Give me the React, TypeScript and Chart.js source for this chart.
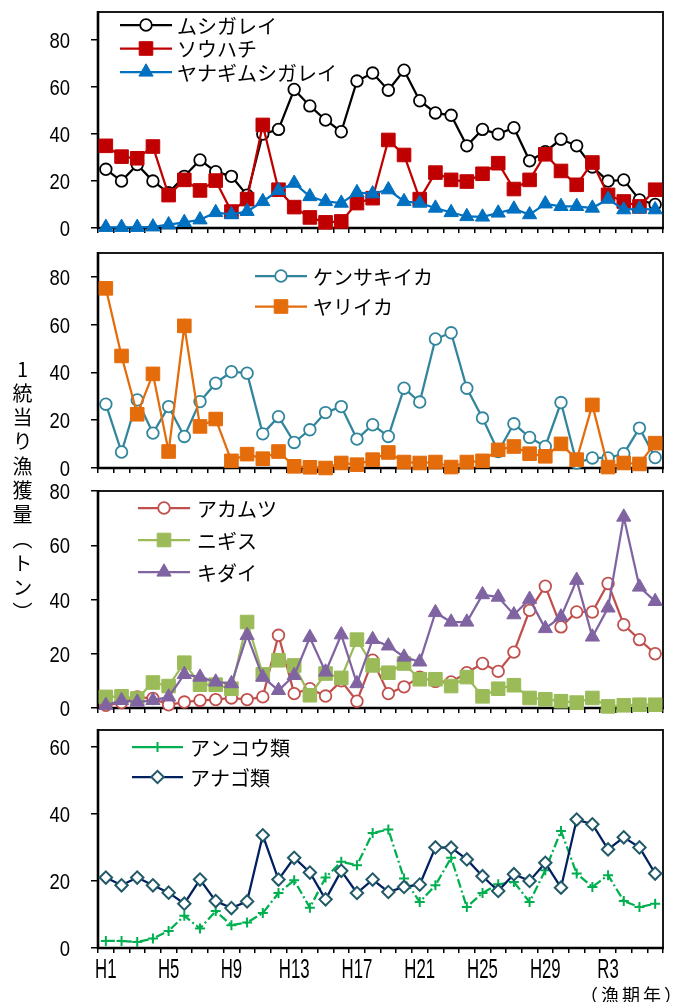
import React, { useEffect, useRef } from "react";
import { Chart, registerables } from "chart.js";

Chart.register(...registerables);

// ---- data ----
const years = [
  "H1", "H2", "H3", "H4", "H5", "H6", "H7", "H8", "H9", "H10",
  "H11", "H12", "H13", "H14", "H15", "H16", "H17", "H18", "H19", "H20",
  "H21", "H22", "H23", "H24", "H25", "H26", "H27", "H28", "H29", "H30",
  "R1", "R2", "R3", "R4", "R5", "R6",
];
const tickEvery = 4;
const yTickValues = [0, 20, 40, 60, 80];

const mushigarei = [25, 20, 27, 20, 15, 22, 29, 24, 22, 14, 40, 42, 59, 52, 46, 41, 62.6, 66, 58.7, 67.2, 54.2, 49, 48, 35, 42, 40, 42.7, 28.6, 32.5, 37.8, 35, 26, 20, 20.5, 12, 10];
const souhachi = [35, 30.4, 29.7, 34.7, 14, 20.5, 16, 20.2, 7, 12.3, 43.9, 16.3, 8.9, 4.5, 2.4, 2.8, 10.6, 12.7, 37.5, 31.1, 12.3, 23.6, 20.5, 19.8, 23.1, 27.6, 16.6, 20.5, 31.4, 24.3, 18.4, 27.9, 14.1, 11.3, 9.2, 16.3];
const yanagimushigarei = [0.3, 0.3, 0.3, 0.5, 1.4, 2.4, 3.5, 6.6, 5.7, 7.1, 11.3, 16, 19.1, 13.4, 11.3, 10.6, 15.1, 14.6, 16.3, 11.3, 10.6, 8.5, 6.6, 4.9, 4.7, 6.4, 8.1, 5.7, 10.3, 9.2, 9.2, 8.5, 12.3, 7.8, 8.1, 7.8];

const kensakiika = [26.7, 6.7, 28.5, 14.6, 25.7, 13.2, 27.8, 35.5, 40.3, 39.7, 14.3, 21.5, 10.7, 16, 23.2, 25.7, 12.1, 18.1, 13.2, 33.4, 27.6, 54, 56.6, 33.4, 20.9, 6.9, 18.5, 12.8, 9, 27.4, 2.1, 4.2, 4.2, 6, 16.7, 4.4];
const yariika = [75.2, 46.9, 22.5, 39.4, 6.9, 59.5, 17.4, 20.5, 3, 5.8, 3.9, 6.9, 0.7, 0.3, 0, 2.1, 1.4, 3.5, 6.5, 2.5, 2.1, 2.5, 0.4, 2.5, 3, 7.6, 9, 6, 4.9, 10.1, 3.5, 26.4, 0.4, 2.1, 1.7, 10.4];

const akamutsu = [1, 2, 4.1, 3.5, 1.2, 2.2, 2.8, 3.1, 3.7, 3.1, 4.1, 26.8, 5.3, 7.1, 4.4, 10, 2.5, 17.6, 5.3, 7.8, 11.4, 9.8, 9.6, 13, 16.4, 13.5, 20.6, 36, 44.9, 29.9, 35.4, 35.4, 45.9, 30.7, 25.2, 20];
const nigisu = [4.1, 4.3, 3.5, 9.4, 8.1, 16.7, 8.6, 8.6, 7.1, 31.7, 12.4, 17.6, 15.7, 4.7, 12.7, 11.1, 25.2, 15.7, 13, 16.4, 10.6, 10.6, 8.1, 11.4, 4.3, 7.1, 8.4, 3.7, 3.2, 2.5, 2, 3.7, 0.6, 1, 1.2, 1.2];
const kidai = [1, 2.8, 2.2, 2.8, 4.1, 12.4, 11.4, 9.6, 9, 26.8, 11.4, 6.5, 12, 26, 13.3, 27, 9, 25.3, 22.9, 18.8, 17, 35.2, 31.7, 31.7, 41.8, 40.9, 34.4, 40.1, 29.3, 33.6, 47.1, 26.2, 36.9, 70.4, 44.6, 39.3];

const ankourui = [2.1, 2.1, 1.8, 2.8, 5.1, 9.6, 5.8, 11, 6.8, 7.6, 10.4, 16.4, 20.2, 12, 21, 25.7, 24.7, 34.3, 35.3, 20.7, 13.7, 18.7, 26.9, 12.2, 16.4, 19, 19.7, 13.7, 23.2, 34.9, 22.2, 18.2, 21.7, 14, 12.2, 13.2];
const anagorui = [21, 18.7, 21, 18.7, 16.5, 13.2, 20.4, 14, 11.9, 13.9, 33.6, 20.4, 26.9, 22.5, 14.5, 23, 16.4, 20.4, 16.7, 18.2, 18.9, 30, 29.9, 26.4, 21.4, 17, 22, 20, 25.4, 18, 38.3, 36.9, 29.4, 33, 30, 22.2];

const yTitle = "1統当り漁獲量（トン）";
const xTitle = "（漁期年）";

// ---- styles ----
type Series = {
  label: string;
  data: number[];
  line: string;
  marker: string;
  fill: string;
  style: string;
  r: number;
  bw: number;
  dash?: number[];
};

const LW = 2.25;
const NUM_FONT = '"Liberation Sans", Arial, sans-serif';
const JP_FONT = '"Noto Sans CJK JP", "Noto Sans CJK SC", sans-serif';

type PanelCfg = {
  top: number;
  bottom: number;
  max: number;
  xh: number;
  showLabels: boolean;
  legend: { x0: number; x1: number; tx: number; y: number; gap: number };
  series: Series[];
};

const PANELS: PanelCfg[] = [
  {
    top: 12, bottom: 228, max: 92, xh: 16, showLabels: false,
    legend: { x0: 120, x1: 172, tx: 177, y: 25, gap: 23.5 },
    series: [
      { label: "ムシガレイ", data: mushigarei, line: "#000000", marker: "#000000", fill: "#ffffff", style: "circle", r: 5.8, bw: 1.8 },
      { label: "ソウハチ", data: souhachi, line: "#C00000", marker: "#C00000", fill: "#C00000", style: "rect", r: 9.6, bw: 1 },
      { label: "ヤナギムシガレイ", data: yanagimushigarei, line: "#0070C0", marker: "#0070C0", fill: "#0070C0", style: "triangle", r: 8.2, bw: 1 },
    ],
  },
  {
    top: 253, bottom: 468, max: 90, xh: 16, showLabels: false,
    legend: { x0: 255, x1: 307, tx: 313, y: 276, gap: 30.5 },
    series: [
      { label: "ケンサキイカ", data: kensakiika, line: "#31859C", marker: "#31859C", fill: "#ffffff", style: "circle", r: 5.8, bw: 1.8 },
      { label: "ヤリイカ", data: yariika, line: "#E46C0A", marker: "#E46C0A", fill: "#E46C0A", style: "rect", r: 9.6, bw: 1 },
    ],
  },
  {
    top: 491, bottom: 708, max: 80, xh: 16, showLabels: false,
    legend: { x0: 138, x1: 190, tx: 197, y: 508, gap: 32 },
    series: [
      { label: "アカムツ", data: akamutsu, line: "#C0504D", marker: "#C0504D", fill: "#ffffff", style: "circle", r: 5.8, bw: 1.8 },
      { label: "ニギス", data: nigisu, line: "#9BBB59", marker: "#9BBB59", fill: "#9BBB59", style: "rect", r: 9.6, bw: 1 },
      { label: "キダイ", data: kidai, line: "#8064A2", marker: "#8064A2", fill: "#8064A2", style: "triangle", r: 8.2, bw: 1 },
    ],
  },
  {
    top: 730, bottom: 948, max: 65, xh: 40, showLabels: true,
    legend: { x0: 132, x1: 183, tx: 190, y: 747, gap: 30 },
    series: [
      { label: "アンコウ類", data: ankourui, line: "#00B050", marker: "#00B050", fill: "#00B050", style: "cross", r: 5, bw: 2, dash: [9, 3, 2, 3] },
      { label: "アナゴ類", data: anagorui, line: "#002060", marker: "#215968", fill: "#ffffff", style: "rectRot", r: 6.2, bw: 2 },
    ],
  },
];

const PAD_TOP = 14;
const AXIS_LEFT = 98;
const PAD_RIGHT = 17;
const Y_LABEL_RIGHT = 70;

function drawMarker(ctx: CanvasRenderingContext2D, s: Series, x: number, y: number) {
  const r = s.r;
  ctx.save();
  ctx.beginPath();
  ctx.setLineDash([]);
  switch (s.style) {
    case "circle":
      ctx.arc(x, y, r, 0, Math.PI * 2);
      break;
    case "rect": {
      const h = r * Math.SQRT1_2;
      ctx.rect(x - h, y - h, 2 * h, 2 * h);
      break;
    }
    case "triangle":
      ctx.moveTo(x, y - r);
      ctx.lineTo(x + r * Math.sin((2 * Math.PI) / 3), y - r * Math.cos((2 * Math.PI) / 3));
      ctx.lineTo(x + r * Math.sin((4 * Math.PI) / 3), y - r * Math.cos((4 * Math.PI) / 3));
      ctx.closePath();
      break;
    case "rectRot":
      ctx.moveTo(x - r, y);
      ctx.lineTo(x, y - r);
      ctx.lineTo(x + r, y);
      ctx.lineTo(x, y + r);
      ctx.closePath();
      break;
    case "cross":
      ctx.moveTo(x, y - r);
      ctx.lineTo(x, y + r);
      ctx.moveTo(x - r, y);
      ctx.lineTo(x + r, y);
      break;
  }
  if (s.style !== "cross") {
    ctx.fillStyle = s.fill;
    ctx.fill();
  }
  ctx.lineWidth = s.bw;
  ctx.strokeStyle = s.marker;
  ctx.stroke();
  ctx.restore();
}

function Panel({ cfg }: { cfg: PanelCfg }) {
  const ref = useRef<HTMLCanvasElement>(null);
  const canvasTop = cfg.top - PAD_TOP;
  const height = cfg.bottom - cfg.top + PAD_TOP + cfg.xh;

  useEffect(() => {
    if (!ref.current) return;
    const n = cfg.series.length;
    const framePlugin = {
      id: "frame",
      beforeDatasetsDraw(chart: any) {
        const { ctx, chartArea: a } = chart;
        ctx.save();
        ctx.strokeStyle = "#1a1a1a";
        ctx.lineWidth = 2;
        ctx.beginPath();
        ctx.moveTo(a.left, a.top);
        ctx.lineTo(a.right, a.top);
        ctx.lineTo(a.right, a.bottom);
        ctx.stroke();
        ctx.strokeStyle = "#000";
        ctx.lineWidth = 2.6;
        ctx.beginPath();
        ctx.moveTo(a.left, a.top - 1);
        ctx.lineTo(a.left, a.bottom);
        ctx.lineTo(a.right + 1, a.bottom);
        ctx.stroke();
        ctx.restore();
      },
    };
    const labelPlugin = {
      id: "tickLabels",
      afterDraw(chart: any) {
        const { ctx, chartArea: a } = chart;
        const ys = chart.scales.y;
        const xs = chart.scales.x;
        ctx.save();
        ctx.fillStyle = "#000";
        ctx.font = `22px ${NUM_FONT}`;
        ctx.textAlign = "right";
        ctx.textBaseline = "alphabetic";
        ys.ticks.forEach((t: any) => {
          const y = ys.getPixelForValue(t.value);
          ctx.save();
          ctx.translate(Y_LABEL_RIGHT, y + 8);
          ctx.scale(0.84, 1);
          ctx.fillText(String(t.value), 0, 0);
          ctx.restore();
        });
        if (cfg.showLabels) {
          ctx.font = `28px ${NUM_FONT}`;
          ctx.textAlign = "center";
          years.forEach((lab, i) => {
            if (i % tickEvery !== 0) return;
            const x = xs.getPixelForValue(i);
            ctx.save();
            ctx.translate(x, a.bottom + 30);
            ctx.scale(0.6, 1);
            ctx.fillText(lab, 0, 0);
            ctx.restore();
          });
        }
        ctx.restore();
      },
    };
    const legendPlugin = {
      id: "customLegend",
      afterDatasetsDraw(chart: any) {
        const { ctx } = chart;
        const L = cfg.legend;
        cfg.series.forEach((s, i) => {
          const y = L.y + i * L.gap - canvasTop;
          ctx.save();
          ctx.strokeStyle = s.line;
          ctx.lineWidth = LW;
          ctx.setLineDash([]);
          ctx.beginPath();
          ctx.moveTo(L.x0, y);
          ctx.lineTo(L.x1, y);
          ctx.stroke();
          ctx.restore();
          drawMarker(ctx, s, (L.x0 + L.x1) / 2, y);
          ctx.save();
          ctx.fillStyle = "#000";
          ctx.font = `20px ${JP_FONT}`;
          ctx.textAlign = "left";
          ctx.textBaseline = "middle";
          ctx.fillText(s.label, L.tx, y + 1);
          ctx.restore();
        });
      },
    };

    const chart = new Chart(ref.current, {
      type: "line",
      data: {
        labels: years,
        datasets: cfg.series.map((s, i) => ({
          label: s.label,
          data: s.data,
          borderColor: s.line,
          backgroundColor: s.fill,
          borderWidth: LW,
          borderDash: s.dash || [],
          tension: 0,
          pointStyle: s.style as any,
          pointRadius: s.r,
          pointHoverRadius: s.r,
          pointBorderWidth: s.bw,
          pointBackgroundColor: s.fill,
          pointBorderColor: s.marker,
          clip: false as any,
          order: n - i,
        })),
      },
      options: {
        animation: false,
        responsive: false,
        devicePixelRatio: 1,
        events: [],
        layout: { padding: { top: PAD_TOP, right: PAD_RIGHT, left: 0, bottom: 0 } },
        plugins: { legend: { display: false }, tooltip: { enabled: false } },
        scales: {
          x: {
            type: "category",
            offset: true,
            border: { display: false },
            grid: { offset: true, drawOnChartArea: false, drawTicks: true, tickLength: 5, color: "#000", lineWidth: 1.5 },
            ticks: { display: false, autoSkip: false },
            afterFit: (scale: any) => {
              scale.height = cfg.xh;
            },
          },
          y: {
            min: 0,
            max: cfg.max,
            border: { display: false },
            grid: { drawOnChartArea: false, drawTicks: true, tickLength: 7, color: "#000", lineWidth: 1.5 },
            ticks: { display: false, stepSize: 20, includeBounds: false },
            afterBuildTicks: (scale: any) => {
              scale.ticks = yTickValues.filter((v) => v <= cfg.max).map((v) => ({ value: v }));
            },
            afterFit: (scale: any) => {
              scale.width = AXIS_LEFT;
            },
          },
        },
      },
      plugins: [framePlugin, legendPlugin, labelPlugin],
    } as any);
    return () => chart.destroy();
  }, []);

  return (
    <canvas
      ref={ref}
      width={680}
      height={height}
      style={{ position: "absolute", left: 0, top: canvasTop, width: 680, height, display: "block" }}
    />
  );
}

export default function App() {
  return (
    <div style={{ position: "absolute", left: 0, top: 0, width: 680, height: 1002, background: "#fff", overflow: "hidden" }}>
      {PANELS.map((p, i) => (
        <Panel key={i} cfg={p} />
      ))}
      <div
        style={{
          position: "absolute",
          left: 12,
          top: 359,
          width: 20,
          writingMode: "vertical-rl",
          textOrientation: "upright",
          fontFamily: JP_FONT,
          fontSize: 20,
          lineHeight: "20px",
          letterSpacing: "4.3px",
          color: "#000",
          whiteSpace: "nowrap",
        }}
      >
        {yTitle}
      </div>
      <div
        style={{
          position: "absolute",
          left: 580,
          top: 985,
          fontFamily: JP_FONT,
          fontSize: 18,
          lineHeight: "18px",
          letterSpacing: "3px",
          color: "#000",
          whiteSpace: "nowrap",
        }}
      >
        {xTitle}
      </div>
    </div>
  );
}
